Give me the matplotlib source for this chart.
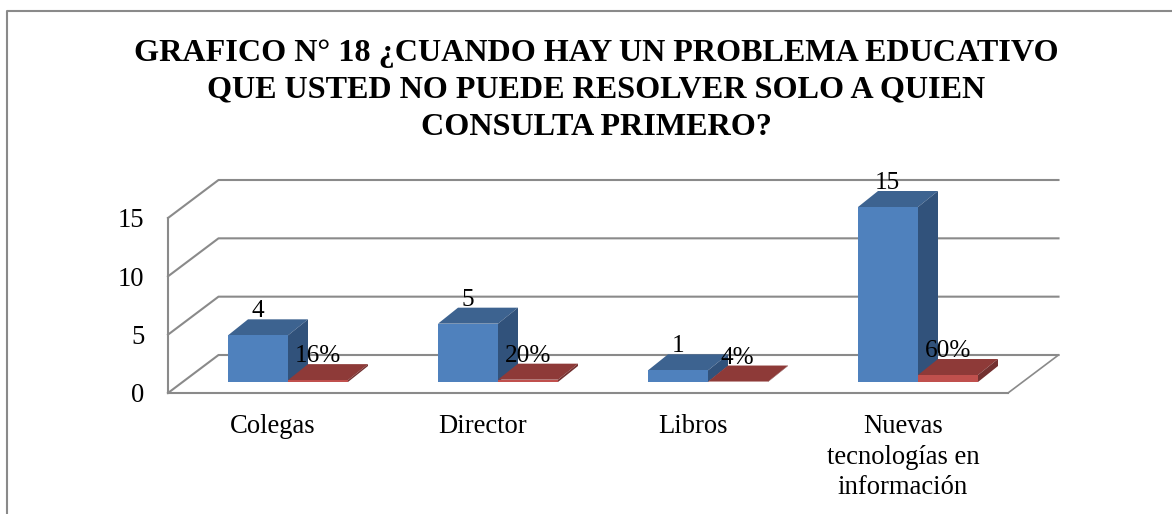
from matplotlib import pyplot as plt
from matplotlib.lines import Line2D

categories = ['Colegas', 'Director', 'Libros', 'Nuevas\ntecnologías en\ninformación']
counts = [4, 5, 1, 15]
shares = [16, 20, 4, 60]
y_ticks = [0, 5, 10, 15]
title = ('GRAFICO N° 18 ¿CUANDO HAY UN PROBLEMA EDUCATIVO\n'
         'QUE USTED NO PUEDE RESOLVER SOLO A QUIEN\n'
         'CONSULTA PRIMERO?')

W, H = 1172, 514
GRID = '#8a8a8a'
BLUE = ('#4f81bd', '#3d6390', '#31527b')
RED = ('#c0504d', '#8e3a38', '#733130')

plt.rcParams['font.family'] = 'Liberation Serif'

fig = plt.figure(figsize=(W / 100, H / 100), dpi=100)
ax = fig.add_axes([168 / W, 1 - 393 / H, 840 / W, 175 / H], facecolor='none')
ax.set_xlim(0, 4)
ax.set_ylim(0, 15)

# pixel sizes of the fake 3d, turned into data units
px_x = 4 / 840
px_y = 15 / 175
wall_dx, wall_dy = 50.5 * px_x, 38 * px_y
bar_dx, bar_dy = 20 * px_x, 16 * px_y
bar_w = 60 * px_x
start = 60 * px_x
lift = 11 * px_y


def bar3d(left, value, colors, order):
    top = lift + value
    right = left + bar_w
    ax.fill([left, right, right + bar_dx, left + bar_dx],
            [top, top, top + bar_dy, top + bar_dy], color=colors[1], lw=0, zorder=order, clip_on=False)
    ax.fill([right, right + bar_dx, right + bar_dx, right],
            [lift, lift + bar_dy, top + bar_dy, top], color=colors[2], lw=0, zorder=order, clip_on=False)
    ax.bar(left, value, bar_w, bottom=lift, align='edge', color=colors[0], lw=0, zorder=order, clip_on=False)


# back wall, floor and grid
for t in y_ticks:
    ax.plot([0, wall_dx, 4 + wall_dx], [t, t + wall_dy, t + wall_dy], color=GRID, lw=1.5, zorder=1, clip_on=False)
ax.plot([4, 4 + wall_dx], [0, wall_dy], color=GRID, lw=1.2, zorder=1, clip_on=False)

for i in range(len(categories)):
    left = i + start
    bar3d(left, counts[i], BLUE, 3)
    bar3d(left + bar_w, shares[i] / 100, RED, 4)
    ax.text(left + bar_w / 2 - 0.002, lift + counts[i] + bar_dy - 3 * px_y, str(counts[i]),
            ha='center', va='bottom', fontsize=18.2, zorder=6, clip_on=False)
    ax.text(left + bar_w * 1.5 - 0.002, lift + shares[i] / 100 + bar_dy - 3 * px_y, str(shares[i]) + '%',
            ha='center', va='bottom', fontsize=18.2, zorder=6, clip_on=False)

for side in ['top', 'right']:
    ax.spines[side].set_visible(False)
for side in ['left', 'bottom']:
    ax.spines[side].set_color(GRID)
    ax.spines[side].set_linewidth(1.5)
ax.set_yticks(y_ticks)
ax.set_xticks([i + 0.5 for i in range(len(categories))])
ax.set_xticklabels(categories, linespacing=1.3)
ax.tick_params(axis='both', length=0, labelsize=19.2)
ax.tick_params(axis='y', pad=17)
ax.tick_params(axis='x', pad=15)

fig.text(596 / W, 1 - 38.5 / H, title, ha='center', va='top', fontsize=23.1, fontweight='bold', linespacing=1.37)

# chart frame, only left and top show in the crop
fig.add_artist(Line2D([7 / W, 7 / W, 1], [0, 1 - 11 / H, 1 - 11 / H], transform=fig.transFigure, color=GRID, lw=1.5))

fig.savefig('out.png', dpi=100)
